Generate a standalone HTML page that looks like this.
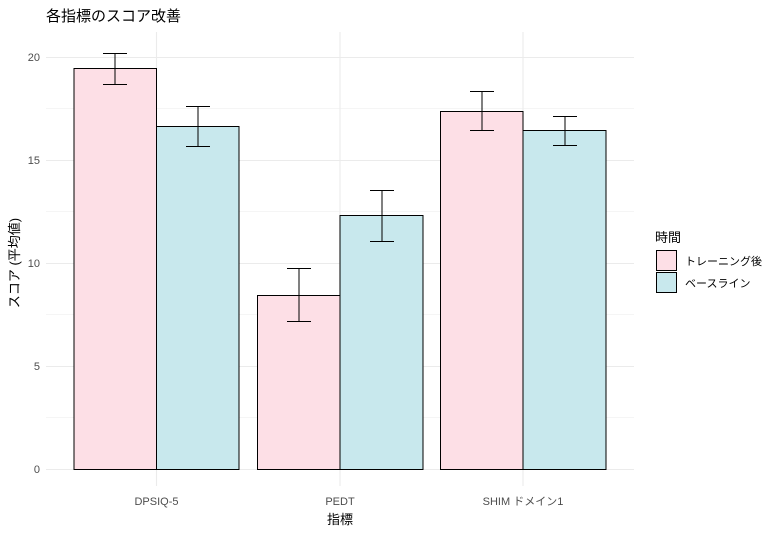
<!DOCTYPE html><html><head><meta charset="utf-8"><style>body{margin:0;background:#fff}svg{display:block}text{font-family:"Liberation Sans","Noto Sans CJK JP",sans-serif}</style></head><body>
<svg width="767" height="535" xmlns="http://www.w3.org/2000/svg">
<rect width="767" height="535" fill="#fff"/>
<g stroke="#ebebeb" stroke-width="0.6">
<line x1="46" x2="634" y1="417.5" y2="417.5"/><line x1="46" x2="634" y1="314.5" y2="314.5"/><line x1="46" x2="634" y1="211.5" y2="211.5"/><line x1="46" x2="634" y1="108.5" y2="108.5"/>
</g>
<g stroke="#ebebeb" stroke-width="1.1">
<line x1="46" x2="634" y1="469.5" y2="469.5"/><line x1="46" x2="634" y1="366.5" y2="366.5"/><line x1="46" x2="634" y1="263.5" y2="263.5"/><line x1="46" x2="634" y1="160.5" y2="160.5"/><line x1="46" x2="634" y1="57.5" y2="57.5"/>
<line x1="156.5" x2="156.5" y1="32" y2="486"/><line x1="340" x2="340" y1="32" y2="486"/><line x1="523" x2="523" y1="32" y2="486"/>
</g>
<g stroke="#000" stroke-width="1">
<rect x="74" y="68.5" width="82.5" height="401" fill="#fddfe6"/>
<rect x="156.5" y="126.5" width="82.5" height="343" fill="#c8e8ed"/>
<rect x="257.5" y="295.5" width="82.5" height="174" fill="#fddfe6"/>
<rect x="340" y="215.5" width="83" height="254" fill="#c8e8ed"/>
<rect x="440.5" y="111.5" width="82.5" height="358" fill="#fddfe6"/>
<rect x="523" y="130.5" width="83" height="339" fill="#c8e8ed"/>
<path fill="none" d="M103 53.5h24M115 53.5v31M103 84.5h24
M186 106.5h24M198 106.5v40M186 146.5h24
M287 268.5h24M299 268.5v53M287 321.5h24
M370 190.5h24M382 190.5v51M370 241.5h24
M470 91.5h24M482 91.5v39M470 130.5h24
M553 116.5h24M565 116.5v29M553 145.5h24"/>
</g>
<g font-size="11" fill="#4d4d4d" text-anchor="end">
<text x="40" y="473">0</text><text x="40" y="370">5</text><text x="40" y="267">10</text><text x="40" y="164">15</text><text x="40" y="61">20</text>
</g>
<g font-size="11" fill="#4d4d4d" text-anchor="middle">
<text x="156.5" y="505">DPSIQ-5</text><text x="340" y="505">PEDT</text><text x="523" y="505">SHIM ドメイン1</text>
</g>
<text x="340" y="524" font-size="13" text-anchor="middle">指標</text>
<text transform="translate(19,263) rotate(-90)" font-size="13" text-anchor="middle">スコア (平均値)</text>
<text x="46" y="21" font-size="15">各指標のスコア改善</text>
<text x="655" y="242" font-size="13">時間</text>
<rect x="656.5" y="250.5" width="20" height="20" fill="#fddfe6" stroke="#000"/>
<rect x="656.5" y="272.5" width="20" height="20" fill="#c8e8ed" stroke="#000"/>
<text x="685" y="265" font-size="11">トレーニング後</text>
<text x="685" y="287" font-size="11">ベースライン</text>
</svg></body></html>
